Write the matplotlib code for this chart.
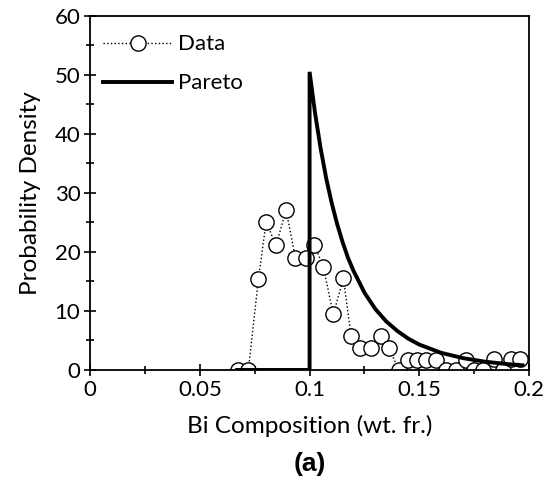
import matplotlib.pyplot as plt
from matplotlib.ticker import MultipleLocator

plt.rcParams['font.family'] = ['Lato', 'DejaVu Sans']

data_x = [0.0676, 0.0721, 0.0767, 0.0802, 0.0847, 0.0893, 0.0935, 0.0984,
          0.1022, 0.1063, 0.1108, 0.1154, 0.1189, 0.1230, 0.1279, 0.1324,
          0.1361, 0.1406, 0.1447, 0.1488, 0.1529, 0.1575, 0.1621, 0.1666,
          0.1712, 0.1747, 0.1792, 0.1838, 0.1880, 0.1918, 0.1959]
data_y = [0.0, 0.0, 15.4, 25.1, 21.1, 27.1, 19.0, 19.0,
          21.2, 17.4, 9.4, 15.5, 5.8, 3.8, 3.8, 5.8,
          3.8, 0.0, 1.7, 1.7, 1.7, 1.7, 0.0, 0.0,
          1.7, 0.0, 0.0, 1.9, 0.0, 1.9, 1.9]

# pareto fit curve
pareto_x = [0.067, 0.1, 0.1, 0.1025, 0.105, 0.1075, 0.11, 0.1125, 0.115, 0.1175,
            0.12, 0.125, 0.13, 0.135, 0.14, 0.145, 0.15, 0.16, 0.17, 0.18,
            0.19, 0.197]
pareto_y = [0.0, 0.0, 50.5, 43.5, 37.6, 32.6, 28.4, 24.8, 21.7, 19.0,
            16.8, 13.1, 10.3, 8.2, 6.6, 5.3, 4.3, 2.9, 2.0, 1.4,
            1.0, 0.8]

fig = plt.figure(figsize=(5.46, 4.78), dpi=100, facecolor='w')
ax = fig.add_axes([0.165, 0.226, 0.804, 0.741])

ax.plot(data_x, data_y, linestyle=':', color='black', linewidth=1.0,
        marker='o', markersize=11, markerfacecolor='white',
        markeredgecolor='black', markeredgewidth=1.0, label='Data', zorder=2)
ax.plot(pareto_x, pareto_y, color='black', linewidth=2.8, label='Pareto',
        solid_joinstyle='miter', zorder=3)

ax.set_xlim(0, 0.2)
ax.set_ylim(0, 60)
ax.xaxis.set_minor_locator(MultipleLocator(0.025))
ax.yaxis.set_major_locator(MultipleLocator(10))
ax.yaxis.set_minor_locator(MultipleLocator(5))
ax.set_xticks([0, 0.05, 0.1, 0.15, 0.2])
ax.set_xticklabels(['0', '0.05', '0.1', '0.15', '0.2'])

ax.tick_params(which='major', direction='inout', length=8, width=1.2,
               labelsize=16, pad=3)
ax.tick_params(which='minor', direction='inout', length=6, width=1.2)
for s in ax.spines.values():
    s.set_linewidth(1.3)

ax.set_xlabel('Bi Composition (wt. fr.)', fontsize=17.5, labelpad=11)
ax.set_ylabel('Probability Density', fontsize=17.5, labelpad=10)

ax.legend(loc='upper left', frameon=False, fontsize=16, handlelength=3.1,
          labelspacing=0.85, handletextpad=0.25, borderaxespad=0.2,
          bbox_to_anchor=(0.0, 0.985))

fig.text(0.567, 0.015, '(a)', fontsize=19, fontweight='bold', ha='center',
         family='Liberation Sans')

fig.savefig('out.png', dpi=100)
